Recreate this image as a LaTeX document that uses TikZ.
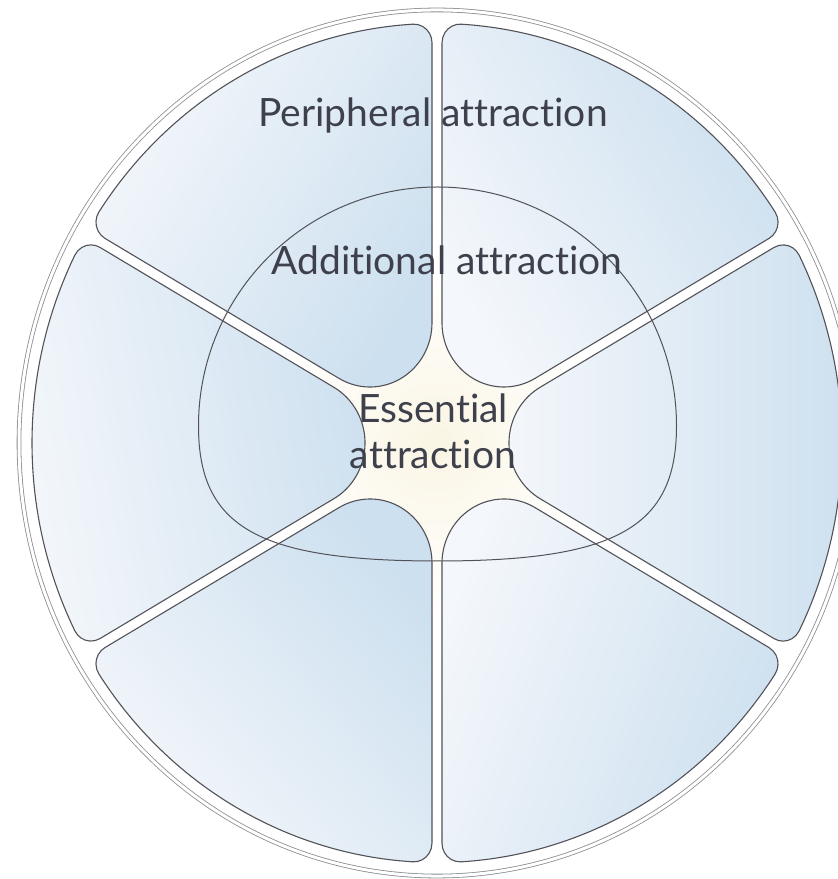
\documentclass[tikz,border=0pt]{standalone}
\usepackage{fontspec}
\setmainfont{Lato}[Ligatures=NoCommon]
\usetikzlibrary{positioning}

\definecolor{ringgray}{RGB}{140,140,146}
\definecolor{edgegray}{RGB}{82,82,88}
\definecolor{paleblue}{RGB}{205,224,239}
\definecolor{mistwhite}{RGB}{244,247,251}
\definecolor{hubcream}{RGB}{250,245,228}
\definecolor{textgray}{RGB}{62,64,76}

\tikzset{
  sectorpath/.style={draw=edgegray, line width=1.1pt},
  outerring/.style={draw=ringgray, line width=0.8pt, double=white, double distance=3pt},
  innerring/.style={draw=edgegray, line width=1pt},
  ringtext/.style={font=\fontsize{39}{46}\selectfont, text=textgray, inner sep=0pt, align=center},
}

\begin{document}
\begin{tikzpicture}[x=1pt,y=1pt]
\useasboundingbox (0,0) rectangle (838,879);
\clip (0,0) rectangle (838,879);

\coordinate (hub) at (437,436);

\begin{scope}[shift={(hub)}, yscale=1.036]
  % background and glow in the middle
  \fill[white] (0,0) circle[radius=418];
  \shade[inner color=hubcream, outer color=white] (0,0) circle[radius=170];

  % the six sectors
  \foreach \rot/\ang in {0/90, 60/120, 120/60, 180/100, 240/130, 300/70}{
    \begin{scope}[rotate=\rot]
      \path[sectorpath, left color=mistwhite, right color=paleblue, shading angle=\ang]
        (103,-53.69) -- (337.06,-188.83)
        arc[start angle=-120, end angle=-26.593, radius=18]
        arc[start angle=-26.593, end angle=26.593, radius=405]
        arc[start angle=26.593, end angle=120, radius=18]
        -- (103,53.69)
        arc[start angle=120, end angle=240, radius=62] -- cycle;
    \end{scope}
  }

  \draw[outerring] (0,0) circle[radius=418];
\end{scope}

% middle ring, round on top and flatter below
\coordinate (ringmid) at (437.5,453);
\draw[innerring] (198.5,453) arc[start angle=180, end angle=0, radius=239]
  .. controls (676.5,351.75) and (616.75,318) .. (437.5,318)
  .. controls (258.25,318) and (198.5,351.75) .. cycle;

\node[ringtext, anchor=base] (peripheral) at (433,752) {Peripheral attraction};
\node[ringtext, anchor=base] (additional) at (447,604) {Additional attraction};
\node[ringtext] (essential) at (433,448) {Essential\\attraction};
\end{tikzpicture}
\end{document}
